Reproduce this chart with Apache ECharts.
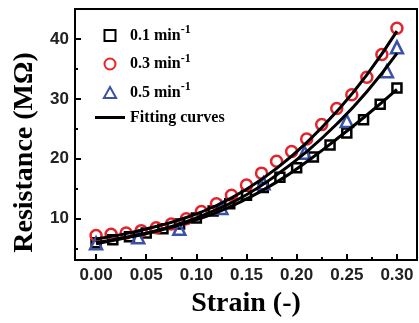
<!DOCTYPE html>
<html>
<head>
<meta charset="utf-8">
<script src="https://cdn.jsdelivr.net/npm/echarts@6/dist/echarts.min.js"></script>
<style>
    html, body { margin: 0; padding: 0; background: #fff; }
    #chart { width: 419px; height: 323px; }
</style>
</head>
<body>
<div id="chart"></div>
<script>
// measured points, 0.1 / 0.3 / 0.5 min^-1
const strain01 = [0, 0.0167, 0.0333, 0.05, 0.0667, 0.0833, 0.1, 0.1167, 0.1333, 0.15, 0.1667, 0.1833, 0.2, 0.2167, 0.2333, 0.25, 0.2667, 0.2833, 0.3];
const res01 = [6.0, 6.5, 7.0, 7.6, 8.3, 9.1, 10.1, 11.3, 12.5, 13.9, 15.2, 16.9, 18.5, 20.3, 22.3, 24.3, 26.5, 29.1, 31.8];

const strain03 = [0, 0.015, 0.03, 0.045, 0.06, 0.075, 0.09, 0.105, 0.12, 0.135, 0.15, 0.165, 0.18, 0.195, 0.21, 0.225, 0.24, 0.255, 0.27, 0.285, 0.3];
const res03 = [7.2, 7.4, 7.6, 8.0, 8.5, 9.1, 10.0, 11.2, 12.5, 13.9, 15.6, 17.6, 19.6, 21.2, 23.3, 25.7, 28.4, 30.7, 33.6, 37.4, 41.8];

const strain05 = [0, 0.042, 0.083, 0.125, 0.167, 0.208, 0.25, 0.29, 0.3];
const res05 = [5.9, 6.9, 8.3, 11.8, 15.9, 21.0, 26.3, 34.6, 38.6];

// fitting curves
const fitStrain = [0, 0.03, 0.06, 0.09, 0.12, 0.15, 0.18, 0.21, 0.24, 0.27, 0.3];
const fit01 = [5.8, 6.8, 7.9, 9.3, 11.0, 13.3, 16.1, 19.5, 23.3, 27.3, 31.6];
const fit03 = [6.6, 7.5, 8.7, 10.2, 12.2, 14.9, 18.4, 22.7, 27.9, 34.0, 41.3];
const fit05 = [6.0, 6.9, 8.0, 9.5, 11.5, 14.0, 17.3, 21.2, 25.8, 31.2, 37.6];

const xMajor = [0, 0.05, 0.1, 0.15, 0.2, 0.25, 0.3];
const xMinor = [0.025, 0.075, 0.125, 0.175, 0.225, 0.275];
const yMajor = [10, 20, 30, 40];
const yMinor = [5, 15, 25, 35];

const zip = (xs, ys) => xs.map((x, i) => [x, ys[i]]);

const serif = "'Liberation Serif', 'Times New Roman', serif";
const sans = "'Liberation Sans', Arial, sans-serif";
const RED = "#e5232b";
const BLUE = "#3b52a6";

const X_MIN = -0.021, X_MAX = 0.32;
const Y_MIN = 3.1, Y_MAX = 45;

const ICON_SQUARE = "path://M0,0L10,0L10,10L0,10Z";
const ICON_CIRCLE = "path://M5,0A5,5,0,1,1,5,10A5,5,0,1,1,5,0Z";
const ICON_TRIANGLE = "path://M5,0L10,9L0,9Z";
const ICON_LINE = "path://M0,0L30,0L30,3L0,3Z";

const legendRich = {
    t: { fontFamily: serif, fontWeight: "bold", fontSize: 16, color: "#000" },
    s: { fontFamily: serif, fontWeight: "bold", fontSize: 12, color: "#000", padding: [0, 0, 11, 0] },
};

const scatter = (name, xs, ys, symbol, size, color) => ({
    name: name,
    type: "scatter",
    data: zip(xs, ys),
    symbol: symbol,
    symbolSize: size,
    z: 2,
    itemStyle: { color: "rgba(255,255,255,0)", borderColor: color, borderWidth: 2.5, opacity: 1 },
});

const fit = (ys) => ({
    name: "Fitting curves",
    type: "line",
    data: zip(fitStrain, ys),
    smooth: true,
    symbol: "none",
    z: 3,
    lineStyle: { color: "#000", width: 3 },
    itemStyle: { color: "#000" },
});

const valueAxis = (min, max) => ({
    type: "value", min: min, max: max,
    axisLine: { show: false, onZero: false },
    splitLine: { show: false },
});

const chart = echarts.init(document.getElementById("chart"));
chart.setOption({
    animation: false,
    backgroundColor: "#fff",
    grid: { left: 75, right: 2, top: 9, bottom: 59, show: true, borderColor: "#000", borderWidth: 2 },
    legend: {
        orient: "vertical",
        left: 90,
        top: 19,
        itemWidth: 30,
        itemHeight: 11,
        itemGap: 9,
        data: [
            { name: "0.1", icon: ICON_SQUARE },
            { name: "0.3", icon: ICON_CIRCLE },
            { name: "0.5", icon: ICON_TRIANGLE },
            { name: "Fitting curves", icon: ICON_LINE, itemStyle: { color: "#000", borderWidth: 0 } },
        ],
        formatter: (name) => name === "Fitting curves" ? "{t|Fitting curves}" : "{t|" + name + " min}{s|-1}",
        textStyle: { rich: legendRich },
    },
    xAxis: [
        Object.assign(valueAxis(X_MIN, X_MAX), {
            name: "Strain (-)", nameLocation: "middle", nameGap: 30,
            nameTextStyle: { fontFamily: serif, fontWeight: "bold", fontSize: 28, color: "#000" },
            axisTick: { inside: true, length: 6, lineStyle: { color: "#000", width: 2 }, customValues: xMajor },
            axisLabel: { margin: 7, fontFamily: sans, fontWeight: "bold", fontSize: 17, color: "#222",
                customValues: xMajor, formatter: (v) => v.toFixed(2) },
        }),
        Object.assign(valueAxis(X_MIN, X_MAX), {
            position: "bottom",
            axisTick: { inside: true, length: 3, lineStyle: { color: "#000", width: 2 }, customValues: xMinor },
            axisLabel: { show: false },
        }),
    ],
    yAxis: [
        Object.assign(valueAxis(Y_MIN, Y_MAX), {
            name: "Resistance (MΩ)", nameLocation: "middle", nameGap: 33,
            nameTextStyle: { fontFamily: serif, fontWeight: "bold", fontSize: 28, color: "#000", padding: [0, 36, 0, 0] },
            axisTick: { inside: true, length: 6, lineStyle: { color: "#000", width: 2 }, customValues: yMajor },
            axisLabel: { margin: 6, fontFamily: sans, fontWeight: "bold", fontSize: 17, color: "#222", customValues: yMajor },
        }),
        Object.assign(valueAxis(Y_MIN, Y_MAX), {
            position: "left",
            axisTick: { inside: true, length: 3, lineStyle: { color: "#000", width: 2 }, customValues: yMinor },
            axisLabel: { show: false },
        }),
    ],
    series: [
        scatter("0.1", strain01, res01, "rect", 9, "#000"),
        scatter("0.3", strain03, res03, "circle", 11, RED),
        scatter("0.5", strain05, res05, "triangle", 12, BLUE),
        fit(fit01),
        fit(fit03),
        fit(fit05),
    ],
});
</script>
</body>
</html>
